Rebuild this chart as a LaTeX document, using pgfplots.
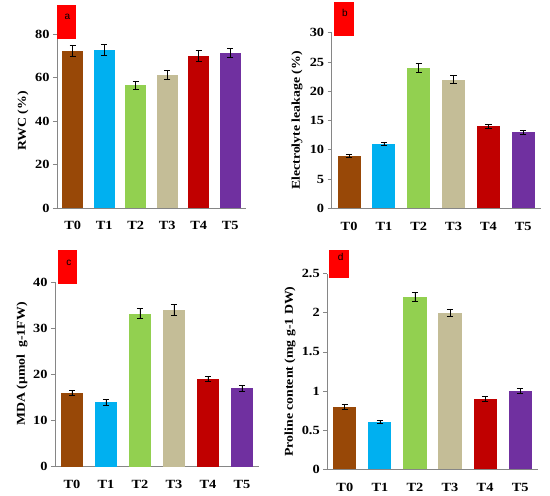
\documentclass[border=0pt]{standalone}
\usepackage{fontspec}
\setmainfont{Liberation Serif}[FakeStretch=1.15]
\newfontfamily\arialfont{Liberation Sans}
\usepackage{pgfplots}
\pgfplotsset{compat=1.18}
\definecolor{cT0}{HTML}{984807}
\definecolor{cT1}{HTML}{00B0F0}
\definecolor{cT2}{HTML}{92D050}
\definecolor{cT3}{HTML}{C4BD97}
\definecolor{cT4}{HTML}{C00000}
\definecolor{cT5}{HTML}{7030A0}
\definecolor{axgray}{HTML}{868686}
\tikzset{boxlbl/.style={font=\arialfont\fontsize{10}{10}\selectfont, text=black}}
\pgfplotsset{
  panel/.style={
    scale only axis,
    axis lines=left,
    axis line style={-, draw=axgray, line width=0.8pt},
    ybar, bar shift=0pt, bar width=0.66,
    xmin=-0.5, xmax=5.5, ymin=0,
    xtick={0,...,5},
    xticklabels={T0,T1,T2,T3,T4,T5},
    x tick style={draw=none},
    extra x ticks={-0.5,0.5,1.5,2.5,3.5,4.5,5.5},
    extra x tick labels={},
    extra x tick style={tick align=outside, major tick length=4pt, tick style={draw=axgray, line width=0.8pt}},
    y tick style={draw=axgray, line width=0.8pt},
    tick align=outside, major tick length=4pt,
    /pgf/number format/assume math mode=true,
    tick label style={font=\bfseries\fontsize{12.5}{12.5}\selectfont, text=black},
    xticklabel style={yshift=-6pt},
    every axis y label/.style={rotate=90, anchor=center, font=\bfseries\fontsize{12}{12}\selectfont},
  },
  bars/.style={draw=none,
    error bars/y dir=both, error bars/y explicit,
    error bars/error bar style={black, line width=0.8pt},
    error bars/error mark options={rotate=90, mark size=3.2pt, black, line width=0.8pt}},
}
\begin{document}
\begin{tikzpicture}
\path[use as bounding box] (0pt,0pt) rectangle (550pt,496pt);
% panel a
\begin{axis}[panel, at={(57pt,288pt)}, anchor=south west, width=189pt, height=173.7pt,
  ymax=80, ytick={0,20,40,60,80},
  ylabel={RWC (\%)}, ylabel style={at={(axis description cs:-0.18,0.5)}}]
\addplot[bars, fill=cT0] coordinates {(0,72.3) +- (0,2.6)};
\addplot[bars, fill=cT1] coordinates {(1,72.7) +- (0,2.6)};
\addplot[bars, fill=cT2] coordinates {(2,56.5) +- (0,1.8)};
\addplot[bars, fill=cT3] coordinates {(3,61.2) +- (0,2.1)};
\addplot[bars, fill=cT4] coordinates {(4,70.0) +- (0,2.5)};
\addplot[bars, fill=cT5] coordinates {(5,71.3) +- (0,2.1)};
\end{axis}
% panel b
\begin{axis}[panel, at={(331.7pt,287.7pt)}, anchor=south west, width=209pt, height=175.6pt,
  ymax=30, ytick={0,5,...,30},
  ylabel={Electrolyte leakage (\%)}, ylabel style={at={(axis description cs:-0.166,0.5)}}]
\addplot[bars, fill=cT0] coordinates {(0,9.0) +- (0,0.25)};
\addplot[bars, fill=cT1] coordinates {(1,11.0) +- (0,0.3)};
\addplot[bars, fill=cT2] coordinates {(2,24.0) +- (0,0.8)};
\addplot[bars, fill=cT3] coordinates {(3,22.0) +- (0,0.7)};
\addplot[bars, fill=cT4] coordinates {(4,14.0) +- (0,0.4)};
\addplot[bars, fill=cT5] coordinates {(5,13.0) +- (0,0.35)};
\end{axis}
% panel c
\begin{axis}[panel, at={(55pt,29.3pt)}, anchor=south west, width=204pt, height=184.4pt,
  ymax=40, ytick={0,10,...,40},
  ylabel={MDA (µmol\ \ g-1FW)}, ylabel style={at={(axis description cs:-0.162,0.557)}}]
\addplot[bars, fill=cT0] coordinates {(0,16.0) +- (0,0.6)};
\addplot[bars, fill=cT1] coordinates {(1,14.0) +- (0,0.6)};
\addplot[bars, fill=cT2] coordinates {(2,33.2) +- (0,1.1)};
\addplot[bars, fill=cT3] coordinates {(3,34.0) +- (0,1.2)};
\addplot[bars, fill=cT4] coordinates {(4,19.0) +- (0,0.6)};
\addplot[bars, fill=cT5] coordinates {(5,17.0) +- (0,0.6)};
\end{axis}
% panel d
\begin{axis}[panel, at={(327.3pt,26.7pt)}, anchor=south west, width=210.4pt, height=195.6pt,
  ymax=2.5, ytick={0,0.5,1,1.5,2,2.5},
  ylabel={Proline content (mg g-1 DW)}, ylabel style={at={(axis description cs:-0.177,0.5)}}]
\addplot[bars, fill=cT0] coordinates {(0,0.80) +- (0,0.03)};
\addplot[bars, fill=cT1] coordinates {(1,0.61) +- (0,0.02)};
\addplot[bars, fill=cT2] coordinates {(2,2.20) +- (0,0.06)};
\addplot[bars, fill=cT3] coordinates {(3,2.00) +- (0,0.05)};
\addplot[bars, fill=cT4] coordinates {(4,0.90) +- (0,0.03)};
\addplot[bars, fill=cT5] coordinates {(5,1.00) +- (0,0.035)};
\end{axis}
% red label boxes
\fill[red] (57pt,457pt) rectangle (75.7pt,491pt);
\node[boxlbl] at (67.5pt,479pt) {a};
\fill[red] (334pt,460pt) rectangle (354pt,494pt);
\node[boxlbl] at (345pt,483pt) {b};
\fill[red] (58pt,212.3pt) rectangle (77pt,246pt);
\node[boxlbl] at (69pt,233.3pt) {c};
\fill[red] (329pt,218.3pt) rectangle (349pt,246pt);
\node[boxlbl] at (340.7pt,239.3pt) {d};
\end{tikzpicture}
\end{document}
